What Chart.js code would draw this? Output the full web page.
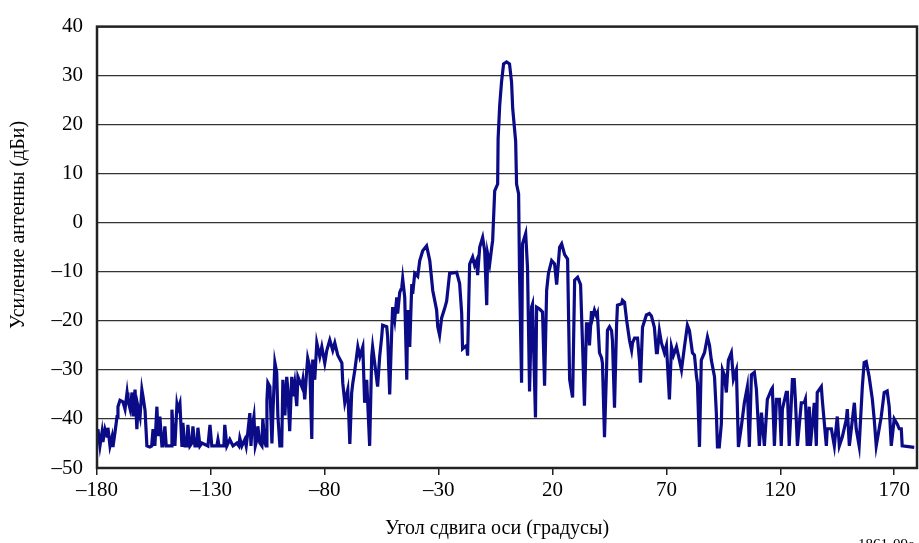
<!DOCTYPE html>
<html>
<head>
<meta charset="utf-8">
<script src="https://cdn.jsdelivr.net/npm/chart.js@4.4.1/dist/chart.umd.min.js"></script>
<style>
  html, body { margin: 0; padding: 0; background: #fff; }
  #wrap { width: 919px; height: 543px; }
</style>
</head>
<body>
<div id="wrap"><canvas id="gainChart" width="919" height="543"></canvas></div>
<script>
// off-axis angle, degrees
var angles = [
  -179.6, -178.7, -177.8, -177.4, -176.5, -175.6, -175.2, -174.3, -173.4, -173.0,
  -172.1, -171.2, -170.8, -169.9, -168.6, -167.7, -166.8, -166.4, -165.5, -164.6,
  -164.2, -163.3, -162.5, -162.0, -161.1, -160.3, -159.8, -158.9, -158.1, -156.8,
  -156.0, -155.4, -154.6, -153.7, -153.2, -152.4, -151.5, -151.1, -150.2, -149.6,
  -148.9, -147.5, -147.1, -146.7, -145.8, -144.9, -144.5, -143.6, -142.7, -142.3,
  -141.4, -140.5, -140.1, -139.2, -138.3, -137.9, -137.0, -136.1, -135.7, -134.8,
  -133.9, -131.3, -130.4, -129.6, -127.4, -126.9, -126.4, -124.3, -123.9, -123.0,
  -121.7, -120.3, -118.6, -117.7, -117.3, -116.4, -115.1, -114.5, -113.8, -112.9,
  -112.4, -112.0, -111.1, -110.5, -109.8, -109.4, -108.5, -107.6, -107.2, -106.3,
  -105.8, -105.4, -105.0, -104.1, -103.2, -102.8,
  -101.9, -101.1, -100.6, -99.7, -98.9, -98.4, -97.5, -96.7, -96.2, -95.4,
  -94.5, -94.0, -93.2, -92.3, -91.8, -90.1, -89.6, -88.8, -87.9, -87.5,
  -86.6, -85.7, -85.3, -84.4, -83.5, -82.2, -81.3, -80.0, -79.1, -77.8,
  -76.5, -75.6, -74.3, -72.5, -72.1, -71.2, -69.9, -69.0, -68.2, -67.7,
  -66.8, -65.5, -64.6, -63.3, -62.5, -61.6, -60.3, -59.4, -59.0, -58.1,
  -56.8, -55.9, -55.0, -54.6, -52.8, -52.4, -51.5, -50.6, -50.2, -49.3,
  -48.4, -48.0, -47.1, -46.2, -45.8, -44.9, -44.0, -43.6, -42.7, -41.8,
  -41.4, -40.5, -39.2, -38.3, -37.0, -35.3, -33.9, -32.6, -30.9, -30.4,
  -29.6, -28.7, -27.4, -26.5, -25.2, -22.1, -20.8, -19.9, -19.5, -17.7,
  -17.3, -16.8, -16.4, -15.1, -14.2, -13.3, -12.9, -12.0, -10.7, -9.8,
  -8.9, -8.5, -7.6, -6.7, -6.3, -5.4, -4.1, -3.9, -3.2, -2.4,
  -1.5, -0.2, 1.1, 2.0, 2.5, 3.8, 4.2, 5.1, 5.5, 6.4,
  6.8, 8.2, 9.0, 9.9, 10.8, 11.2, 12.5, 13.0, 14.3, 15.6,
  16.5, 17.4, 18.2, 19.6, 20.9, 21.8, 23.1, 24.0, 25.3, 26.6,
  27.5, 28.8, 29.7, 31.0, 32.3, 33.2, 34.0, 34.9, 35.8, 36.2,
  37.1, 37.5, 38.4, 39.3, 39.7, 40.6, 41.5, 41.9, 42.8, 43.7,
  44.1, 45.0, 45.9, 46.3, 47.2, 48.1, 48.5, 50.3, 50.7, 51.6,
  52.5, 53.8, 54.7, 55.1, 56.0, 57.3, 58.2, 58.6, 59.5, 61.2,
  62.5, 63.4, 64.7, 65.6, 66.0, 66.9, 67.8, 69.1, 70.0, 71.3,
  72.2, 73.1, 74.4, 75.7, 76.6, 77.9, 79.2, 80.1, 81.4, 82.3,
  83.2, 83.6, 84.5, 85.3, 86.7, 88.0, 88.9, 89.7, 91.1, 91.9,
  92.4, 93.2, 94.1, 94.6, 95.4, 96.3, 97.2, 98.5, 99.4, 100.7,
  101.6, 102.9, 104.2, 105.5, 106.4, 107.3, 108.6, 109.5, 110.8, 111.7,
  113.0, 114.3, 116.1, 116.5, 117.4, 118.3, 119.6, 120.4, 120.9, 122.6,
  123.1, 123.9, 125.3, 126.1, 126.6, 127.5, 129.2, 130.5, 131.0, 131.8,
  132.7, 133.2, 134.9, 135.8, 136.2, 138.0, 138.4, 140.2, 140.6, 142.4,
  143.7, 145.0, 145.9, 147.2, 149.0, 149.4, 150.3, 152.5, 153.3, 154.6,
  156.0, 156.8, 157.7, 159.0, 160.4, 161.2, 162.1, 164.3, 165.6, 166.9,
  167.8, 168.7, 170.0, 171.3, 172.2, 173.1, 173.5, 178.8
];

// measured antenna gain, dBi
var gains = [
  -42.1, -45.5, -42.7, -44.7, -42.1, -43.5, -41.8, -45.5, -43.7, -45.7,
  -42.7, -39.5, -37.5, -36.2, -36.5, -38.0, -34.6, -36.2, -37.9, -34.6,
  -39.5, -34.0, -42.1, -37.5, -39.5, -34.0, -35.4, -38.3, -45.5, -45.7,
  -45.5, -42.1, -45.5, -37.5, -43.5, -39.5, -45.5, -45.5, -41.5, -45.5,
  -45.5, -45.5, -38.1, -41.5, -45.5, -37.1, -38.1, -36.8, -45.7, -40.8,
  -45.5, -45.5, -41.2, -45.5, -44.9, -41.5, -45.5, -45.5, -41.8, -45.5,
  -44.9, -45.5, -41.2, -45.5, -45.5, -44.2, -45.5, -45.5, -41.2, -45.5,
  -44.2, -45.5, -44.9, -45.5, -43.9, -45.5, -44.2, -45.5, -42.8, -38.8,
  -45.5, -42.1, -39.5, -45.5, -44.2, -41.5, -44.9, -45.5, -40.0, -44.9,
  -45.5, -36.2, -32.6, -33.4, -45.0, -39.3,
  -28.5, -30.5, -39.3, -45.5, -45.5, -32.0, -39.3, -31.4, -34.0, -42.5,
  -31.4, -35.4, -32.7, -37.4, -31.4, -33.4, -32.0, -36.0, -30.0, -27.6,
  -29.4, -44.1, -27.9, -32.0, -24.5, -27.3, -25.3, -28.6, -26.0, -23.9,
  -26.0, -24.5, -27.0, -28.6, -32.7, -36.7, -34.0, -45.1, -34.7, -32.7,
  -30.0, -25.3, -27.3, -25.3, -36.7, -32.0, -45.5, -27.3, -25.3, -28.6,
  -33.4, -27.3, -23.2, -20.9, -21.2, -23.2, -35.0, -21.9, -17.2, -19.8,
  -15.2, -18.5, -14.2, -13.2, -11.4, -15.2, -32.0, -17.8, -25.3, -12.5,
  -14.5, -10.3, -10.9, -7.7, -5.7, -4.7, -7.7, -13.8, -17.8, -21.2,
  -22.9, -19.4, -17.5, -16.0, -10.3, -10.1, -12.4, -18.4, -25.7, -25.0,
  -27.1, -16.4, -8.4, -7.0, -8.7, -7.7, -10.7, -5.0, -3.0, -5.7,
  -16.8, -6.3, -8.4, -5.0, -3.6, 6.5, 7.9, 17.2, 24.0, 28.7,
  32.4, 32.8, 32.4, 28.7, 23.3, 16.6, 7.9, 5.9, -10.3, -32.6,
  -4.3, -2.2, -9.1, -34.4, -17.2, -16.6, -39.7, -17.2, -17.6, -18.2,
  -33.2, -13.8, -10.3, -7.7, -8.4, -12.6, -5.0, -4.3, -6.5, -7.4,
  -32.0, -35.6, -11.7, -11.1, -12.6, -25.3, -37.3, -20.6, -20.6, -25.0,
  -18.0, -19.5, -17.8, -19.0, -18.5, -26.5, -27.5, -28.6, -43.7, -30.0,
  -21.9, -21.2, -22.0, -24.0, -37.7, -21.0, -16.8, -16.5, -15.8, -16.2,
  -19.8, -24.0, -26.0, -24.5, -23.5, -23.5, -28.3, -32.6, -21.3, -18.8,
  -18.5, -19.0, -21.3, -26.5, -26.5, -22.0, -24.5, -26.5, -25.0, -36.0,
  -25.3, -27.0, -25.3, -28.0, -30.0, -25.3, -20.9, -22.0, -26.5, -27.0,
  -31.4, -32.6, -45.7, -28.0, -26.5, -23.3, -25.0, -28.0, -31.4, -38.7,
  -45.7, -45.7, -41.0, -30.0, -31.0, -34.6, -28.0, -26.5, -31.9, -30.0,
  -45.7, -41.5, -36.7, -33.5, -45.7, -31.0, -30.5, -34.0, -45.5, -38.7,
  -45.5, -36.0, -34.0, -33.7, -45.5, -36.0, -36.0, -45.5, -38.0, -34.6,
  -34.6, -45.5, -32.0, -32.0, -36.0, -45.5, -36.7, -36.7, -36.0, -45.5,
  -37.5, -45.5, -36.7, -45.5, -34.6, -33.4, -36.0, -45.5, -42.0, -42.0,
  -45.5, -39.5, -45.5, -43.7, -40.0, -38.0, -45.5, -36.7, -42.0, -45.5,
  -33.4, -28.5, -28.3, -31.4, -36.0, -40.0, -45.5, -39.5, -34.6, -34.3,
  -37.5, -45.5, -40.0, -41.0, -42.0, -42.0, -45.5, -45.8
];

var xTicks = [-180, -130, -80, -30, 20, 70, 120, 170];
var yTicks = [-50, -40, -30, -20, -10, 0, 10, 20, 30, 40];

var serif = '"Liberation Serif", "Times New Roman", serif';

function dashMinus(v) {
  return String(v).replace('-', '\u2013');
}

var points = angles.map(function (a, i) { return { x: a, y: gains[i] }; });

// frame around the plot area plus the axis captions
var framePlugin = {
  id: 'frame',
  afterDraw: function (chart) {
    var ctx = chart.ctx, a = chart.chartArea;
    ctx.save();
    ctx.strokeStyle = '#222';
    ctx.lineWidth = 2.5;
    ctx.strokeRect(a.left, a.top, a.right - a.left, a.bottom - a.top);

    ctx.fillStyle = '#000';
    ctx.font = '20px ' + serif;
    ctx.textAlign = 'center';
    ctx.textBaseline = 'middle';
    ctx.fillText('Угол сдвига оси (градусы)', 497, 529);

    ctx.translate(19, 225);
    ctx.rotate(-Math.PI / 2);
    ctx.fillText('Усиление антенны (дБи)', 0, 0);
    ctx.restore();

    ctx.save();
    ctx.fillStyle = '#000';
    ctx.font = '15px ' + serif;
    ctx.textAlign = 'left';
    ctx.textBaseline = 'alphabetic';
    ctx.fillText('1861-09e', 858, 549);
    ctx.restore();
  }
};

var ctx = document.getElementById('gainChart').getContext('2d');
var gainChart = new Chart(ctx, {
  type: 'line',
  data: {
    datasets: [{
      label: 'gain',
      data: points,
      borderColor: '#0b0b88',
      borderWidth: 3.2,
      pointRadius: 0,
      tension: 0,
      fill: false
    }]
  },
  options: {
    responsive: false,
    animation: false,
    layout: { padding: { top: 23, right: 2, left: 0, bottom: 0 } },
    plugins: {
      legend: { display: false },
      tooltip: { enabled: false }
    },
    scales: {
      x: {
        type: 'linear',
        min: -180,
        max: 180,
        afterBuildTicks: function (scale) {
          scale.ticks = xTicks.map(function (v) { return { value: v }; });
        },
        afterFit: function (scale) { scale.height = 75; },
        grid: {
          display: true,
          drawOnChartArea: false,
          drawTicks: true,
          tickLength: 7,
          color: '#222',
          lineWidth: 1.5
        },
        border: { display: false },
        ticks: {
          color: '#000',
          font: { family: serif, size: 21 },
          padding: 3,
          maxRotation: 0,
          autoSkip: false,
          callback: function (v) { return dashMinus(v); }
        }
      },
      y: {
        min: -50,
        max: 40,
        afterBuildTicks: function (scale) {
          scale.ticks = yTicks.map(function (v) { return { value: v }; });
        },
        afterFit: function (scale) { scale.width = 97; },
        grid: {
          color: '#333',
          lineWidth: 1.2,
          drawTicks: false
        },
        border: { display: false },
        ticks: {
          color: '#000',
          font: { family: serif, size: 21 },
          padding: 14,
          callback: function (v) { return dashMinus(v); }
        }
      }
    }
  },
  plugins: [framePlugin]
});
</script>
</body>
</html>
